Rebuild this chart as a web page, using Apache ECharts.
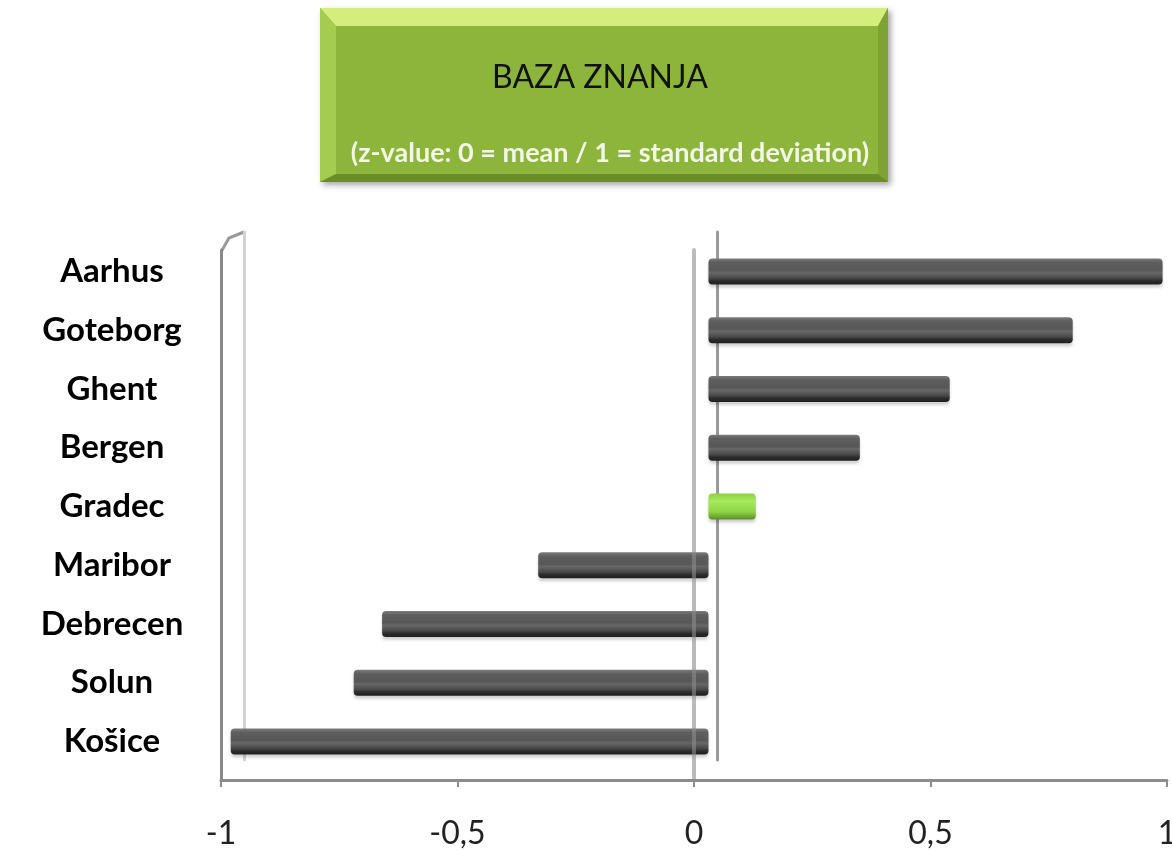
<!DOCTYPE html>
<html>
<head>
<meta charset="utf-8">
<title>Baza znanja</title>
<script src="https://cdn.jsdelivr.net/npm/echarts@6/dist/echarts.min.js"></script>
<style>
  html, body { margin: 0; padding: 0; background: #fff; }
  #chart { width: 1172px; height: 851px; }
</style>
</head>
<body>
<div id="chart"></div>
<script>
// Data
const cities = ["Aarhus", "Goteborg", "Ghent", "Bergen", "Gradec", "Maribor", "Debrecen", "Solun", "Košice"];
const zValues = [0.96, 0.77, 0.51, 0.32, 0.1, -0.36, -0.69, -0.75, -1.01];
const highlightCity = "Gradec";
const axisMin = -1;
const axisMax = 1;
const axisStep = 0.5;
const titleText = "BAZA ZNANJA";
const subtitleText = "(z-value: 0 = mean / 1 = standard deviation)";

// Bar fills: dark gray tube, green one for the highlighted city
const grayFill = new echarts.graphic.LinearGradient(0, 0, 0, 1, [
  { offset: 0, color: "#7c7c7c" },
  { offset: 0.15, color: "#5e5e5e" },
  { offset: 0.45, color: "#575757" },
  { offset: 0.55, color: "#676767" },
  { offset: 0.75, color: "#4a4a4a" },
  { offset: 0.86, color: "#2c2c2c" },
  { offset: 1, color: "#1f1f1f" },
]);
const greenFill = new echarts.graphic.LinearGradient(0, 0, 0, 1, [
  { offset: 0, color: "#8fd046" },
  { offset: 0.3, color: "#a6e85e" },
  { offset: 0.7, color: "#8fd446" },
  { offset: 1, color: "#5b9024" },
]);

const barData = zValues.map((v, i) => ({
  value: v,
  itemStyle: { color: cities[i] === highlightCity ? greenFill : grayFill },
}));

const font = "Lato, 'Open Sans', sans-serif";
const hiddenCat = {
  type: "category",
  data: cities,
  inverse: true,
  axisTick: { show: false },
  axisLabel: { show: false },
  splitLine: { show: false },
};

// Title box drawn as a bevelled green button
const bx = 320, by = 8, bw = 568, bh = 174;
const titleBox = [
  {
    type: "rect",
    shape: { x: bx, y: by, width: bw, height: bh },
    style: {
      fill: "#8db53b",
      shadowBlur: 6,
      shadowColor: "rgba(0,0,0,0.35)",
      shadowOffsetX: 3,
      shadowOffsetY: 3,
    },
  },
  {
    type: "polygon",
    shape: { points: [[bx, by], [bx + bw, by], [bx + bw - 10, by + 18], [bx + 16, by + 18]] },
    style: { fill: "#d3ee7c" },
  },
  {
    type: "polygon",
    shape: { points: [[bx, by], [bx + 16, by + 18], [bx + 16, by + bh - 8], [bx, by + bh]] },
    style: { fill: "#a3cc50" },
  },
  {
    type: "polygon",
    shape: { points: [[bx + bw, by], [bx + bw, by + bh], [bx + bw - 10, by + bh - 8], [bx + bw - 10, by + 18]] },
    style: { fill: "#7ea233" },
  },
  {
    type: "polygon",
    shape: { points: [[bx, by + bh], [bx + 16, by + bh - 8], [bx + bw - 10, by + bh - 8], [bx + bw, by + bh]] },
    style: { fill: "#6a8c2a" },
  },
  {
    type: "text",
    x: bx + bw / 2 - 4,
    y: 78,
    style: {
      text: titleText,
      fill: "#111",
      font: "32px " + font,
      align: "center",
      verticalAlign: "middle",
    },
  },
  {
    type: "text",
    x: bx + bw / 2 + 6,
    y: 153,
    style: {
      text: subtitleText,
      fill: "#f3f8e6",
      font: "bold 27px " + font,
      align: "center",
      verticalAlign: "middle",
    },
  },
  // top corner of the left wall (3D frame)
  {
    type: "polyline",
    shape: { points: [[221, 252], [229, 238], [244, 232]] },
    style: { stroke: "#9a9a9a", lineWidth: 3, fill: null },
  },
];

const option = {
  backgroundColor: "#ffffff",
  animation: false,
  graphic: titleBox,
  grid: [
    // front frame (with the visible value axis)
    { left: 221, top: 250, width: 946, height: 530, outerBoundsMode: "none", containLabel: false },
    // back wall
    { left: 244, top: 232, width: 946, height: 528, outerBoundsMode: "none", containLabel: false },
    // bars (range -1.02..1 so the longest bar can pass the wall a little)
    { left: 226, top: 242, width: 955.5, height: 529, outerBoundsMode: "none", containLabel: false },
  ],
  xAxis: [
    {
      gridIndex: 0,
      type: "value",
      min: axisMin,
      max: axisMax,
      interval: axisStep,
      axisLine: { show: true, onZero: false, lineStyle: { color: "#8c8c8c", width: 3 } },
      axisTick: { show: true, length: 7, lineStyle: { color: "#8c8c8c", width: 2 } },
      axisLabel: {
        margin: 38,
        color: "#222",
        fontSize: 32,
        fontFamily: font,
        formatter: (v) => String(v).replace(".", ","),
      },
      splitLine: { show: false },
    },
    { gridIndex: 1, type: "value", min: axisMin, max: axisMax, show: false },
    { gridIndex: 2, type: "value", min: -1.02, max: axisMax, show: false },
  ],
  yAxis: [
    {
      ...hiddenCat,
      gridIndex: 0,
      z: 5,
      axisLine: { show: true, onZero: true, lineStyle: { color: "rgba(140,140,140,0.6)", width: 4 } },
    },
    {
      ...hiddenCat,
      gridIndex: 0,
      position: "left",
      axisLine: { show: true, onZero: false, lineStyle: { color: "#8a8a8a", width: 3 } },
    },
    {
      ...hiddenCat,
      gridIndex: 1,
      axisLine: { show: true, onZero: true, lineStyle: { color: "#9a9a9a", width: 3 } },
    },
    {
      ...hiddenCat,
      gridIndex: 1,
      position: "left",
      axisLine: { show: true, onZero: false, lineStyle: { color: "#d2d2d2", width: 3 } },
    },
    {
      type: "category",
      gridIndex: 2,
      data: cities,
      inverse: true,
      axisLine: { show: false },
      axisTick: { show: false },
      splitLine: { show: false },
      axisLabel: {
        align: "center",
        margin: 114,
        color: "#000",
        fontSize: 33,
        fontWeight: "bold",
        fontFamily: font,
      },
    },
  ],
  series: [
    {
      name: "z-value",
      type: "bar",
      xAxisIndex: 2,
      yAxisIndex: 4,
      barWidth: 26,
      data: barData,
      itemStyle: {
        borderRadius: 4,
        shadowColor: "rgba(0,0,0,0.18)",
        shadowBlur: 3,
        shadowOffsetY: 3,
      },
    },
  ],
};

const chart = echarts.init(document.getElementById("chart"));
chart.setOption(option);
window.addEventListener("resize", () => chart.resize());
</script>
</body>
</html>
